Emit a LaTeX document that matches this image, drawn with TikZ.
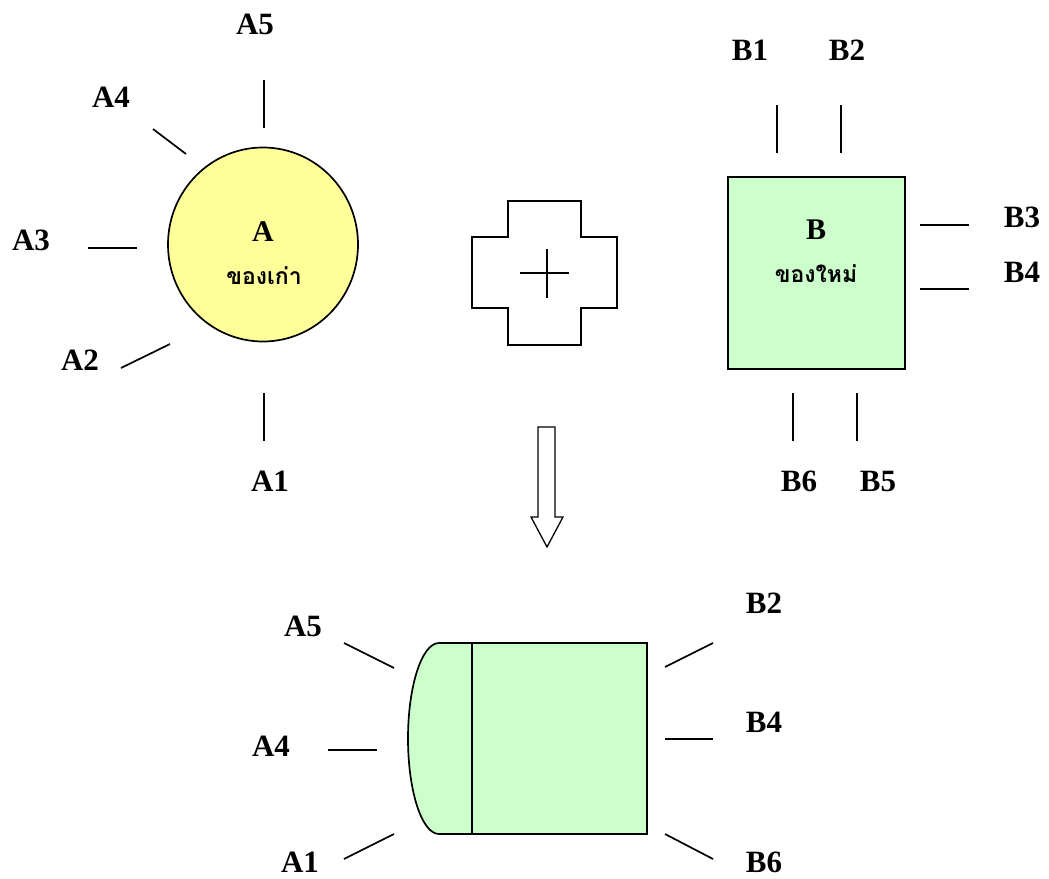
\documentclass[tikz,border=0pt]{standalone}
\usepackage{fontspec}
\setmainfont{Liberation Serif}
\newfontfamily\thaifont[Script=Thai]{Loma}
\usetikzlibrary{shapes.geometric}
\definecolor{oldyellow}{HTML}{FFFF99}
\definecolor{newgreen}{HTML}{CCFFCC}
\tikzset{
  lbl/.style={font=\fontsize{31}{36}\selectfont\bfseries, inner sep=0pt},
  inlbl/.style={font=\fontsize{30}{34}\selectfont\bfseries, inner sep=0pt},
  thlbl/.style={font=\thaifont\fontsize{23}{28}\selectfont\bfseries, inner sep=0pt},
  stub/.style={line width=1.7pt},
  shp/.style={line width=1.7pt, draw=black},
}
\begin{document}
\begin{tikzpicture}[x=1pt,y=-1pt]
\useasboundingbox (0,0) rectangle (1049,878);
% ---- A : old thing
\node[shp, ellipse, fill=oldyellow, minimum width=190pt, minimum height=194pt, inner sep=0pt] (ea) at (263,244.5) {};
\node[inlbl] (ta) at (263,232) {A};
\node[thlbl] (tha) at (264,276) {ของเก่า};
\coordinate (a5s) at (264,80); \coordinate (a5e) at (264,128);
\coordinate (a4s) at (153,129); \coordinate (a4e) at (186,154);
\coordinate (a3s) at (88,248); \coordinate (a3e) at (137,248);
\coordinate (a2s) at (121,368); \coordinate (a2e) at (170,344);
\coordinate (a1s) at (264,393); \coordinate (a1e) at (264,441);
\draw[stub] (a5s) -- (a5e);
\draw[stub] (a4s) -- (a4e);
\draw[stub] (a3s) -- (a3e);
\draw[stub] (a2s) -- (a2e);
\draw[stub] (a1s) -- (a1e);
\node[lbl] (la5) at (255,24) {A5};
\node[lbl] (la4) at (111,97) {A4};
\node[lbl] (la3) at (31,240) {A3};
\node[lbl] (la2) at (80,360) {A2};
\node[lbl] (la1) at (270,481) {A1};
% ---- plus sign
\draw[shp] (508,201) -- (581,201) -- (581,237) -- (617,237) -- (617,308) -- (581,308) -- (581,345)
  -- (508,345) -- (508,308) -- (472,308) -- (472,237) -- (508,237) -- cycle;
\coordinate (ph1) at (520,273); \coordinate (ph2) at (569,273);
\coordinate (pv1) at (547,249); \coordinate (pv2) at (547,298);
\draw[shp] (ph1) -- (ph2);
\draw[shp] (pv1) -- (pv2);
% ---- B : new thing
\node[shp, rectangle, fill=newgreen, minimum width=177pt, minimum height=192pt, inner sep=0pt] (rb) at (816.5,273) {};
\node[inlbl] (tb) at (816,230) {B};
\node[thlbl] (thb) at (816,274) {ของใหม่};
\coordinate (b1s) at (777,105); \coordinate (b1e) at (777,153);
\coordinate (b2s) at (841,105); \coordinate (b2e) at (841,153);
\coordinate (b3s) at (920,225); \coordinate (b3e) at (969,225);
\coordinate (b4s) at (920,289); \coordinate (b4e) at (969,289);
\coordinate (b6s) at (793,393); \coordinate (b6e) at (793,441);
\coordinate (b5s) at (857,393); \coordinate (b5e) at (857,441);
\draw[stub] (b1s) -- (b1e);
\draw[stub] (b2s) -- (b2e);
\draw[stub] (b3s) -- (b3e);
\draw[stub] (b4s) -- (b4e);
\draw[stub] (b6s) -- (b6e);
\draw[stub] (b5s) -- (b5e);
\node[lbl] (lb1) at (750,50) {B1};
\node[lbl] (lb2) at (847,50) {B2};
\node[lbl] (lb3) at (1022,217) {B3};
\node[lbl] (lb4) at (1022,272) {B4};
\node[lbl] (lb6) at (799,481) {B6};
\node[lbl] (lb5) at (878,481) {B5};
% ---- down arrow
\draw[shp, line width=1.3pt] (538,427) -- (555,427) -- (555,517) -- (563,517) -- (547,547) -- (531,517) -- (538,517) -- cycle;
% ---- combined result
\draw[shp, fill=newgreen] (647,643) -- (439,643)
  .. controls (421.9,643) and (408,685.8) .. (408,738.5)
  .. controls (408,791.2) and (421.9,834) .. (439,834) -- (647,834) -- cycle;
\coordinate (dv1) at (472,643); \coordinate (dv2) at (472,834);
\draw[shp] (dv1) -- (dv2);
\coordinate (c5s) at (344,643); \coordinate (c5e) at (394,668);
\coordinate (c4s) at (328,750); \coordinate (c4e) at (377,750);
\coordinate (c1s) at (344,859); \coordinate (c1e) at (394,834);
\coordinate (d2s) at (665,667); \coordinate (d2e) at (713,643);
\coordinate (d4s) at (665,739); \coordinate (d4e) at (713,739);
\coordinate (d6s) at (665,834); \coordinate (d6e) at (713,859);
\draw[stub] (c5s) -- (c5e);
\draw[stub] (c4s) -- (c4e);
\draw[stub] (c1s) -- (c1e);
\draw[stub] (d2s) -- (d2e);
\draw[stub] (d4s) -- (d4e);
\draw[stub] (d6s) -- (d6e);
\node[lbl] (lc5) at (303,626) {A5};
\node[lbl] (lc4) at (271,746) {A4};
\node[lbl] (lc1) at (300,862) {A1};
\node[lbl] (ld2) at (764,603) {B2};
\node[lbl] (ld4) at (764,722) {B4};
\node[lbl] (ld6) at (764,862) {B6};
\end{tikzpicture}
\end{document}
